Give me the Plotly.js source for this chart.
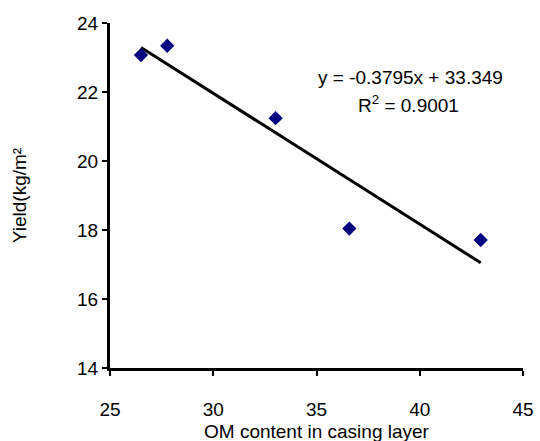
<!DOCTYPE html>
<html>
<head>
<meta charset="utf-8">
<script src="https://cdn.plot.ly/plotly-3.0.1.min.js"></script>
<style>
html,body{margin:0;padding:0;background:#fff;}
#chart{width:540px;height:441px;}
</style>
</head>
<body>
<div id="chart"></div>
<script>
// Data
const omContent = [26.5, 27.77, 33.02, 36.59, 42.95];
const yieldVals = [23.07, 23.34, 21.24, 18.04, 17.71];
const slope = -0.3795;
const intercept = 33.349;
const r2 = 0.9001;
const xTicks = [25, 30, 35, 40, 45];
const yTicks = [14, 16, 18, 20, 22, 24];
const xTitle = 'OM content in casing layer';
const yTitle = 'Yield(kg/m²';

const xMin = Math.min(...omContent), xMax = Math.max(...omContent);
const trendX = [xMin, xMax];
const trendY = trendX.map(v => slope * v + intercept);

const font = {family: '"Liberation Sans", Arial, sans-serif', size: 19, color: '#000'};

const data = [
  {
    x: trendX, y: trendY, mode: 'lines', type: 'scatter',
    line: {color: '#000', width: 3}, hoverinfo: 'skip', showlegend: false
  },
  {
    x: omContent, y: yieldVals, mode: 'markers', type: 'scatter',
    marker: {symbol: 'diamond', color: '#000080', size: 11}, showlegend: false
  }
];

const ml = 110, mr = 17, mt = 23, mb = 73;
const plotW = 540 - ml - mr, plotH = 441 - mt - mb;

const layout = {
  width: 540, height: 441,
  margin: {l: ml, r: mr, t: mt, b: mb},
  paper_bgcolor: '#fff', plot_bgcolor: '#fff',
  font: font,
  showlegend: false,
  xaxis: {
    range: [25, 45], tickvals: xTicks, ticktext: xTicks.map(String),
    showgrid: false, zeroline: false,
    showline: true, linecolor: '#000', linewidth: 3,
    ticks: 'outside', ticklen: 5, tickwidth: 2, tickcolor: '#000',
    ticklabelstandoff: 17,
    tickfont: font
  },
  yaxis: {
    range: [14, 24], tickvals: yTicks, ticktext: yTicks.map(String),
    showgrid: false, zeroline: false,
    showline: true, linecolor: '#000', linewidth: 3,
    ticks: 'outside', ticklen: 5, tickwidth: 2, tickcolor: '#000',
    tickfont: font,
    title: {text: yTitle, font: font, standoff: 46}
  },
  annotations: [
    {
      xref: 'paper', yref: 'paper',
      x: 0.5, y: -(420 - (441 - mb)) / plotH,
      showarrow: false, text: xTitle, font: font,
      xanchor: 'center', yanchor: 'top', borderpad: 0
    },
    {
      xref: 'paper', yref: 'paper',
      x: (410 - ml) / plotW, y: 1 - (77 - mt) / plotH,
      showarrow: false,
      text: 'y = ' + slope + 'x + ' + intercept,
      font: font, xanchor: 'center', yanchor: 'middle'
    },
    {
      xref: 'paper', yref: 'paper',
      x: (408 - ml) / plotW, y: 1 - (104 - mt) / plotH,
      showarrow: false,
      text: 'R<sup>2</sup> = ' + r2.toFixed(4),
      font: font, xanchor: 'center', yanchor: 'middle'
    }
  ]
};

Plotly.newPlot('chart', data, layout, {displayModeBar: false, staticPlot: true});
</script>
</body>
</html>
